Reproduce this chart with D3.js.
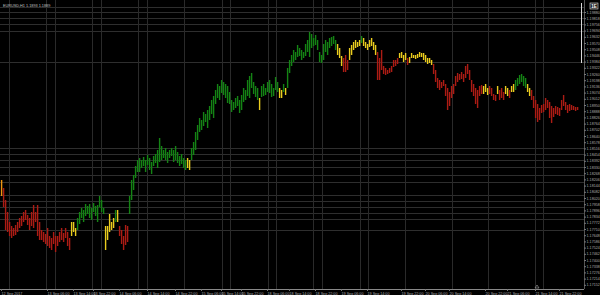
<!DOCTYPE html>
<html>
<head>
<meta charset="utf-8">
<script src="https://cdn.jsdelivr.net/npm/d3@7"></script>
<style>
body { margin: 0; background: #000; }
svg { display: block; }
text { font-family: "Liberation Sans", Arial, sans-serif; }
</style>
</head>
<body>
<div id="chart"></div>
<script>
// bar highs / lows (EURUSD, H1), one value per bar
var hi = [
  1.1820,1.1812,1.1800,1.1788,1.1778,1.1774,1.1772,1.1775,1.1778,1.1782,
  1.1784,1.1788,1.1790,1.1785,1.1782,1.1788,1.1795,1.1788,1.1795,1.1778,
  1.1770,1.1768,1.1766,1.1772,1.1764,1.1762,1.1768,1.1764,1.1764,1.1768,
  1.1772,1.1767,1.1772,1.1768,1.1762,1.1778,1.1778,1.1772,1.1782,1.1788,
  1.1792,1.1790,1.1796,1.1794,1.1796,1.1792,1.1797,1.1794,1.1795,1.1804,
  1.1800,1.1792,1.1774,1.1774,1.1786,1.1778,1.1782,1.1790,1.1790,1.1774,
  1.1770,1.1764,1.1775,1.1774,1.1804,1.1820,1.1825,1.1834,1.1840,1.1842,
  1.1840,1.1843,1.1840,1.1845,1.1842,1.1838,1.1844,1.1846,1.1850,1.1862,
  1.1854,1.1850,1.1852,1.1848,1.1850,1.1852,1.1850,1.1854,1.1848,1.1844,
  1.1846,1.1842,1.1840,1.1842,1.1840,1.1852,1.1858,1.1868,1.1875,1.1882,
  1.1880,1.1888,1.1886,1.1890,1.1894,1.1900,1.1904,1.1910,1.1916,1.1914,
  1.1920,1.1918,1.1916,1.1914,1.1908,1.1900,1.1898,1.1902,1.1904,1.1900,
  1.1905,1.1912,1.1910,1.1920,1.1924,1.1927,1.1918,1.1914,1.1912,1.1902,
  1.1914,1.1916,1.1912,1.1918,1.1920,1.1916,1.1912,1.1923,1.1918,1.1912,
  1.1910,1.1916,1.1912,1.1932,1.1940,1.1945,1.1950,1.1948,1.1955,1.1952,
  1.1950,1.1948,1.1956,1.1960,1.1968,1.1966,1.1962,1.1965,1.1960,1.1948,
  1.1945,1.1956,1.1960,1.1958,1.1962,1.1963,1.1964,1.1960,1.1956,1.1952,
  1.1944,1.1942,1.1945,1.1940,1.1952,1.1955,1.1958,1.1960,1.1958,1.1960,
  1.1964,1.1962,1.1958,1.1956,1.1960,1.1962,1.1958,1.1955,1.1948,1.1942,
  1.1950,1.1934,1.1932,1.1930,1.1932,1.1934,1.1940,1.1940,1.1942,1.1947,
  1.1948,1.1945,1.1947,1.1942,1.1943,1.1947,1.1945,1.1945,1.1946,1.1948,
  1.1947,1.1947,1.1945,1.1942,1.1942,1.1940,1.1936,1.1930,1.1922,1.1920,
  1.1918,1.1920,1.1916,1.1912,1.1908,1.1914,1.1916,1.1924,1.1927,1.1926,
  1.1928,1.1926,1.1934,1.1936,1.1930,1.1920,1.1916,1.1912,1.1910,1.1914,
  1.1915,1.1914,1.1916,1.1912,1.1914,1.1912,1.1906,1.1905,1.1914,1.1910,
  1.1912,1.1908,1.1914,1.1912,1.1910,1.1914,1.1916,1.1920,1.1922,1.1925,
  1.1926,1.1924,1.1922,1.1916,1.1912,1.1910,1.1904,1.1900,1.1896,1.1892,
  1.1895,1.1896,1.1902,1.1900,1.1898,1.1894,1.1892,1.1894,1.1893,1.1892,
  1.1900,1.1905,1.1898,1.1895,1.1896,1.1895,1.1894,1.1893,1.1893
];
var lo = [
  1.1804,1.1793,1.1770,1.1768,1.1764,1.1762,1.1764,1.1765,1.1768,1.1772,
  1.1774,1.1778,1.1780,1.1775,1.1770,1.1774,1.1772,1.1778,1.1764,1.1760,
  1.1760,1.1758,1.1756,1.1754,1.1752,1.1750,1.1756,1.1748,1.1754,1.1758,
  1.1760,1.1758,1.1762,1.1754,1.1750,1.1764,1.1768,1.1764,1.1770,1.1776,
  1.1782,1.1778,1.1784,1.1786,1.1782,1.1780,1.1788,1.1784,1.1778,1.1793,
  1.1788,1.1786,1.1750,1.1760,1.1768,1.1770,1.1772,1.1778,1.1778,1.1764,
  1.1756,1.1750,1.1755,1.1758,1.1786,1.1800,1.1810,1.1822,1.1828,1.1828,
  1.1832,1.1834,1.1828,1.1835,1.1830,1.1826,1.1834,1.1837,1.1832,1.1838,
  1.1840,1.1842,1.1840,1.1837,1.1842,1.1844,1.1838,1.1840,1.1837,1.1834,
  1.1836,1.1832,1.1830,1.1832,1.1830,1.1840,1.1845,1.1850,1.1860,1.1868,
  1.1870,1.1874,1.1878,1.1872,1.1880,1.1886,1.1882,1.1896,1.1902,1.1900,
  1.1907,1.1905,1.1902,1.1897,1.1896,1.1888,1.1890,1.1892,1.1894,1.1887,
  1.1890,1.1898,1.1900,1.1904,1.1902,1.1912,1.1906,1.1903,1.1900,1.1890,
  1.1903,1.1904,1.1905,1.1908,1.1907,1.1903,1.1904,1.1910,1.1908,1.1902,
  1.1902,1.1908,1.1905,1.1912,1.1927,1.1934,1.1938,1.1940,1.1943,1.1944,
  1.1940,1.1942,1.1944,1.1948,1.1943,1.1952,1.1954,1.1955,1.1950,1.1938,
  1.1937,1.1940,1.1948,1.1945,1.1952,1.1954,1.1956,1.1950,1.1945,1.1942,
  1.1934,1.1928,1.1928,1.1930,1.1940,1.1945,1.1950,1.1952,1.1953,1.1954,
  1.1957,1.1954,1.1952,1.1950,1.1953,1.1954,1.1950,1.1945,1.1920,1.1920,
  1.1930,1.1926,1.1925,1.1926,1.1927,1.1928,1.1933,1.1934,1.1936,1.1942,
  1.1942,1.1938,1.1940,1.1935,1.1937,1.1942,1.1942,1.1941,1.1942,1.1943,
  1.1943,1.1940,1.1938,1.1936,1.1937,1.1935,1.1926,1.1918,1.1912,1.1910,
  1.1912,1.1914,1.1904,1.1890,1.1894,1.1902,1.1906,1.1914,1.1918,1.1920,
  1.1921,1.1918,1.1922,1.1926,1.1920,1.1908,1.1904,1.1896,1.1892,1.1904,
  1.1906,1.1906,1.1908,1.1905,1.1906,1.1904,1.1900,1.1899,1.1906,1.1900,
  1.1902,1.1900,1.1906,1.1904,1.1902,1.1908,1.1908,1.1910,1.1914,1.1916,
  1.1918,1.1914,1.1912,1.1908,1.1904,1.1900,1.1892,1.1882,1.1878,1.1880,
  1.1887,1.1888,1.1890,1.1892,1.1882,1.1877,1.1883,1.1886,1.1885,1.1884,
  1.1890,1.1894,1.1890,1.1887,1.1889,1.1890,1.1890,1.1889,1.1890
];

// trend colour of the bars, as runs: [code, number of bars]
var trendRuns = [
  ["o",1],["r",34],["y",3],["g",14],["y",5],["g",1],["y",1],["r",5],
  ["g",29],["y",2],["g",34],["y",1],["g",9],["y",2],["g",1],["y",1],
  ["g",25],["y",3],["r",3],["y",6],["g",1],["y",7],["r",11],["y",4],
  ["r",1],["y",12],["r",25],["y",3],["r",4],["y",1],["r",3],["y",2],
  ["r",1],["y",2],["g",6],["y",2],["r",24]
];
var trendColor = { r: "rgb(172,28,20)", g: "rgb(20,132,20)", y: "rgb(234,204,30)", o: "rgb(240,150,16)" };

// horizontal levels drawn across the chart
var gridLevels = [1.1993, 1.1988, 1.1982, 1.1976, 1.1969, 1.1938,
  1.1852, 1.1846, 1.1840, 1.1833, 1.1825, 1.1818,
  1.1805, 1.1799, 1.1793, 1.1787, 1.1781, 1.1770];

// period separators (bar index)
var separators = [4, 22.5, 27, 45.5, 50, 68.5, 73, 91.5, 110.5, 114.5, 133.5,
  137.5, 156, 160.5, 179.5, 183.5, 202, 225.5, 243.5, 267, 271];

// price scale labels
var priceTicks = [1.19880,1.19818,1.19756,1.19694,1.19632,1.19570,1.19508,1.19446,
  1.19384,1.19322,1.19260,1.19198,1.19136,1.19074,1.19012,1.18950,1.18888,1.18826,
  1.18764,1.18702,1.18640,1.18578,1.18516,1.18454,1.18392,1.18330,1.18268,1.18206,
  1.18144,1.18082,1.18020,1.17958,1.17896,1.17834,1.17772,1.17710,1.17648,1.17586,
  1.17524,1.17462,1.17400,1.17338,1.17276,1.17214,1.17152];

// time scale labels
var timeTicks = [0, 23, 36, 46, 59, 73, 87, 100, 110, 120, 133, 144, 157, 170, 183,
  200, 212, 224, 242, 253, 267, 279];
var timeLabels = ["12 Sep 2017", "13 Sep 06:00", "13 Sep 14:00", "13 Sep 22:00",
  "14 Sep 06:00", "14 Sep 14:00", "14 Sep 22:00", "15 Sep 06:00", "15 Sep 14:00",
  "15 Sep 22:00", "18 Sep 06:00", "18 Sep 14:00", "18 Sep 22:00", "19 Sep 06:00",
  "19 Sep 14:00", "19 Sep 22:00", "20 Sep 06:00", "20 Sep 14:00", "20 Sep 22:00",
  "21 Sep 06:00", "21 Sep 14:00", "21 Sep 22:00"];

var title = "EURUSD,H1  1.1893 1.1889";

// layout
var W = 600, H = 295,
    plotRight = 584, plotBottom = 289;

var trend = [];
trendRuns.forEach(function(r) { for (var k = 0; k < r[1]; k++) trend.push(r[0]); });

var bars = hi.map(function(h, i) { return { i: i, hi: h, lo: lo[i], t: trend[i] }; });

var x = d3.scaleLinear().domain([0, hi.length - 1]).range([1, 577]),
    y = d3.scaleLinear().domain([1.1716, 1.2000]).range([284, 0]);

var svg = d3.select("#chart").append("svg")
    .attr("width", W)
    .attr("height", H);

svg.append("rect")
    .attr("width", W)
    .attr("height", H)
    .attr("fill", "#000");

// grid
var grid = svg.append("g").attr("class", "grid").attr("shape-rendering", "crispEdges");

grid.selectAll(".hl")
    .data(gridLevels)
    .enter().append("line")
    .attr("x1", 0).attr("x2", plotRight)
    .attr("y1", function(d) { return Math.round(y(d)) + 0.5; })
    .attr("y2", function(d) { return Math.round(y(d)) + 0.5; })
    .attr("stroke", "#2e2e2e");

grid.selectAll(".vl")
    .data(separators)
    .enter().append("line")
    .attr("x1", function(d) { return Math.round(x(d)) + 0.5; })
    .attr("x2", function(d) { return Math.round(x(d)) + 0.5; })
    .attr("y1", 0).attr("y2", plotBottom)
    .attr("stroke", "#2a2a2a");

// bars, drawn as thin filled rects
svg.append("g")
    .attr("class", "bars")
    .selectAll("rect")
    .data(bars)
    .enter().append("rect")
    .attr("x", function(d) { return Math.round(x(d.i)) - 0.1; })
    .attr("width", 1.4)
    .attr("y", function(d) { return Math.round(y(d.hi)); })
    .attr("height", function(d) { return Math.max(Math.round(y(d.lo) - y(d.hi)), 2); })
    .style("fill", function(d) { return trendColor[d.t]; });

// price axis
var yAxis = d3.axisRight(y)
    .tickValues(priceTicks)
    .tickSize(2)
    .tickSizeOuter(0)
    .tickFormat(d3.format(".5f"));

var ya = svg.append("g")
    .attr("transform", "translate(" + plotRight + ",0)")
    .call(yAxis);
ya.select(".domain").attr("stroke", "#555").attr("d", "M0.5,0V" + plotBottom);
ya.selectAll(".tick line").attr("stroke", "#777");
ya.selectAll(".tick text")
    .attr("x", 2.5)
    .attr("fill", "#a8a8a8")
    .style("font-size", "3.7px");

// time axis
var xAxis = d3.axisBottom(x)
    .tickValues(timeTicks)
    .tickSize(2)
    .tickSizeOuter(0)
    .tickFormat(function(d, i) { return timeLabels[i]; });

var xa = svg.append("g")
    .attr("transform", "translate(0," + plotBottom + ")")
    .call(xAxis);
xa.select(".domain").attr("stroke", "#888").attr("d", "M0,0.5H" + plotRight);
xa.selectAll(".tick line").attr("stroke", "#777");
xa.selectAll(".tick text")
    .attr("y", 3)
    .attr("dy", "0.75em")
    .attr("text-anchor", "start")
    .attr("fill", "#a8a8a8")
    .style("font-size", "3.7px");

// title
svg.append("text")
    .attr("x", 3)
    .attr("y", 7)
    .attr("fill", "#c0c0c0")
    .style("font-size", "3.8px")
    .text(title);

// scroll marker on the right edge
svg.append("line")
    .attr("x1", 581.5).attr("x2", 581.5)
    .attr("y1", 3).attr("y2", 63)
    .attr("stroke", "#d8d8d8");

// price box top right
svg.append("rect")
    .attr("x", 590).attr("y", 3)
    .attr("width", 8).attr("height", 6)
    .attr("fill", "#222")
    .attr("stroke", "#ddd")
    .attr("stroke-width", 0.6);
svg.append("text")
    .attr("x", 594).attr("y", 7.8)
    .attr("text-anchor", "middle")
    .attr("fill", "#fff")
    .style("font-size", "4.5px")
    .style("font-weight", "bold")
    .text("1E");

// chart shift marker
svg.append("path")
    .attr("d", "M" + (x(268) - 2) + ",288 L" + x(268) + ",285 L" + (x(268) + 2) + ",288 Z")
    .attr("fill", "none")
    .attr("stroke", "#aaa")
    .attr("stroke-width", 0.6);
</script>
</body>
</html>
